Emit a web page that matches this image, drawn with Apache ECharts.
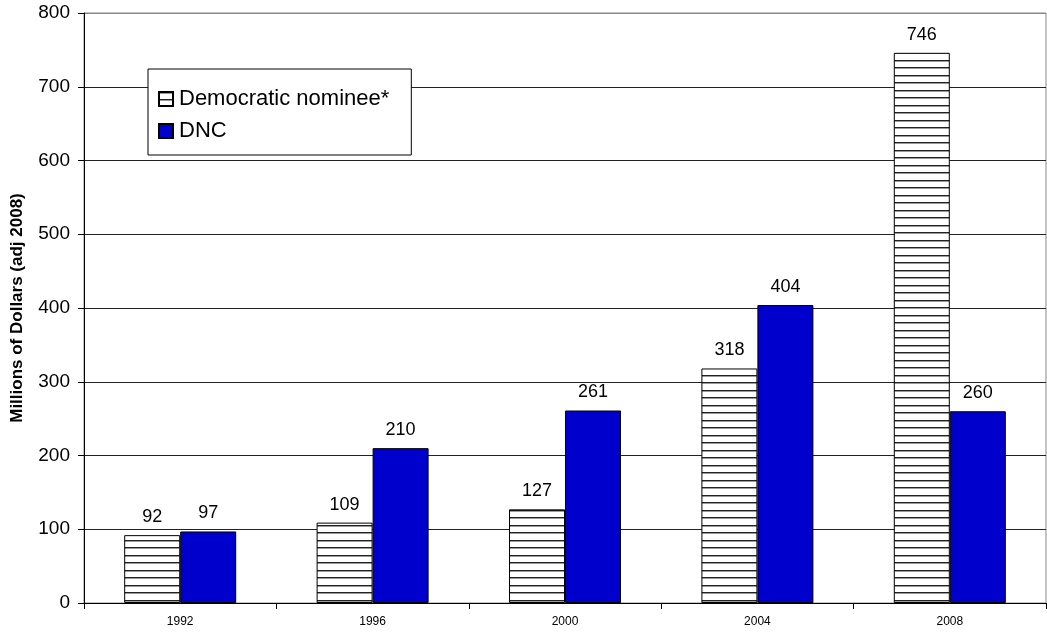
<!DOCTYPE html>
<html>
<head>
<meta charset="utf-8">
<script src="https://cdn.jsdelivr.net/npm/echarts@6/dist/echarts.min.js"></script>
<style>
html,body{margin:0;padding:0;background:#fff;}
#chart{width:1047px;height:639px;}
</style>
</head>
<body>
<div id="chart"></div>
<script>
const years = ['1992', '1996', '2000', '2004', '2008'];
const nomineeValues = [92, 109, 127, 318, 746];
const dncValues = [97, 210, 261, 404, 260];
const seriesNames = ['Democratic nominee*', 'DNC'];
const yAxisTitle = 'Millions of Dollars (adj 2008)';

function stripeCanvas() {
  const c = document.createElement('canvas');
  c.width = 8; c.height = 15;
  const ctx = c.getContext('2d');
  ctx.fillStyle = '#fff';
  ctx.fillRect(0, 0, 8, 15);
  ctx.fillStyle = '#222';
  ctx.fillRect(0, 0, 8, 1);
  ctx.fillRect(0, 7, 8, 1);
  ctx.fillStyle = '#9a9a9a';
  ctx.fillRect(0, 1, 8, 1);
  ctx.fillRect(0, 8, 8, 1);
  return c;
}
const stripe = { image: stripeCanvas(), repeat: 'repeat' };

const chart = echarts.init(document.getElementById('chart'), null, { renderer: 'canvas' });
const font = 'Liberation Sans, Arial, sans-serif';
const splitColors = ['#222','#222','#222','#222','#222','#222','#222','#222','#888'];

chart.setOption({
  animation: false,
  backgroundColor: '#fff',
  textStyle: { fontFamily: font },
  grid: {
    left: 84, right: 1, top: 13, bottom: 36,
    show: true, borderColor: '#888', borderWidth: 1
  },
  legend: {
    orient: 'vertical',
    left: 148, top: 69,
    itemWidth: 14, itemHeight: 14,
    itemGap: 10,
    padding: [19, 22, 13, 10],
    backgroundColor: '#fff',
    borderColor: '#000',
    borderWidth: 1,
    textStyle: { fontFamily: font, fontSize: 22, color: '#000', padding: [0, 0, 0, 1] },
    data: [
      { name: seriesNames[0], icon: 'rect' },
      { name: seriesNames[1], icon: 'rect' }
    ]
  },
  xAxis: {
    type: 'category',
    data: years,
    axisLine: { lineStyle: { color: '#000', width: 1 } },
    axisTick: { show: true, length: 6, lineStyle: { color: '#000' } },
    axisLabel: { fontFamily: font, fontSize: 12, color: '#000', margin: 13 }
  },
  yAxis: {
    type: 'value',
    min: 0, max: 800, interval: 100,
    name: yAxisTitle,
    nameLocation: 'middle',
    nameGap: 58,
    nameTextStyle: { fontFamily: font, fontSize: 17, fontWeight: 'bold', color: '#000' },
    axisLine: { show: true, lineStyle: { color: '#000', width: 1 } },
    axisTick: { show: true, length: 6, lineStyle: { color: '#000' } },
    axisLabel: { fontFamily: font, fontSize: 19, color: '#000', margin: 14 },
    splitLine: { show: true, lineStyle: { color: splitColors, width: 1 } }
  },
  series: [
    {
      name: seriesNames[0],
      type: 'bar',
      data: nomineeValues,
      barWidth: 56,
      barGap: '0%',
      itemStyle: { color: stripe, borderColor: '#000', borderWidth: 1 },
      label: { show: true, position: 'top', distance: 9, fontFamily: font, fontSize: 18, color: '#000' }
    },
    {
      name: seriesNames[1],
      type: 'bar',
      data: dncValues,
      barWidth: 56,
      barGap: '0%',
      itemStyle: { color: '#0000CC', borderColor: '#000', borderWidth: 1 },
      label: { show: true, position: 'top', distance: 9, fontFamily: font, fontSize: 18, color: '#000' }
    }
  ]
});
</script>
</body>
</html>
